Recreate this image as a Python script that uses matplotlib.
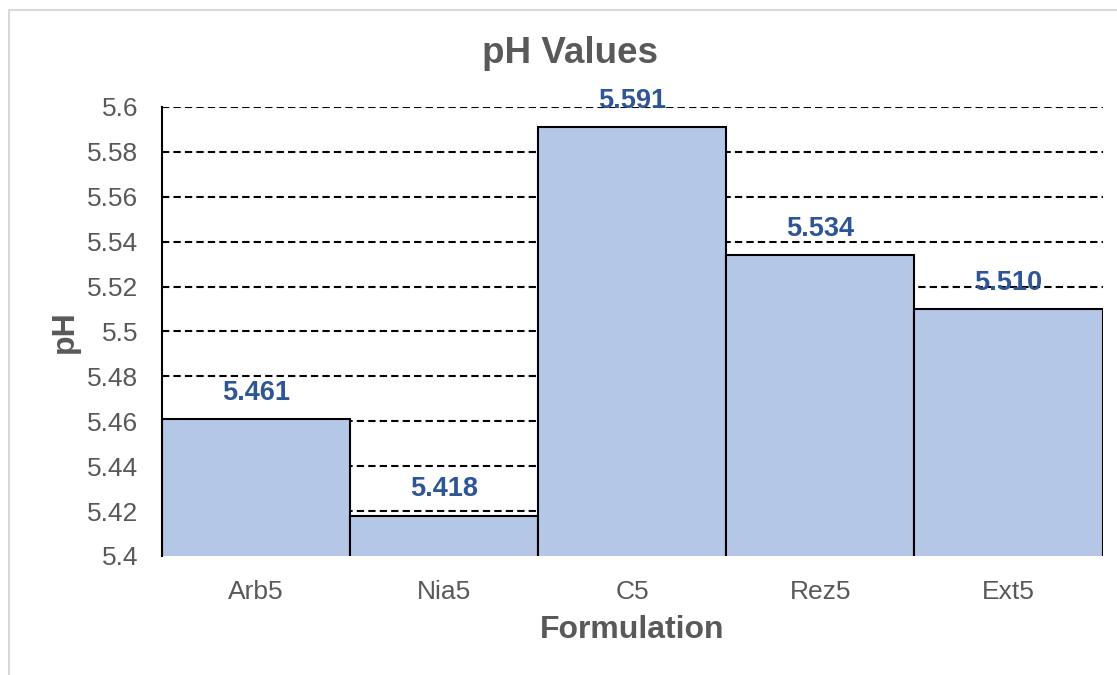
import matplotlib.pyplot as plt
from matplotlib.patches import Rectangle

plt.rcParams['font.family'] = ['Liberation Sans', 'DejaVu Sans']

formulations = ['Arb5', 'Nia5', 'C5', 'Rez5', 'Ext5']
ph_values = [5.461, 5.418, 5.591, 5.534, 5.510]
y_ticks = [5.4, 5.42, 5.44, 5.46, 5.48, 5.5, 5.52, 5.54, 5.56, 5.58, 5.6]
y_tick_labels = ['5.4', '5.42', '5.44', '5.46', '5.48', '5.5', '5.52', '5.54', '5.56', '5.58', '5.6']

gray = '#595959'
fig = plt.figure(figsize=(11.17, 6.75), dpi=100)
ax = fig.add_axes([0.145, 0.1763, 0.8421, 0.6652])

# chart border
fig.patches.append(Rectangle((0.008, -0.1), 1.2, 1.085, transform=fig.transFigure,
                             fill=False, edgecolor='#D9D9D9', lw=1.5))

ax.set_axisbelow(True)
ax.yaxis.grid(True, linestyle=(0, (3.5, 2)), color='black', lw=1.5)
bars = ax.bar(formulations, ph_values, width=1.0, color='#B4C7E7',
              edgecolor='black', lw=1.5, zorder=2)

ax.set_ylim(5.4, 5.6)
ax.set_xlim(-0.5, 4.5)
ax.set_yticks(y_ticks)
ax.set_yticklabels(y_tick_labels)
ax.tick_params(axis='y', length=0, pad=17, labelsize=19, labelcolor=gray)
ax.tick_params(axis='x', length=0, pad=17, labelsize=19, labelcolor=gray)

for s in ['top', 'right', 'bottom']:
    ax.spines[s].set_visible(False)
ax.spines['left'].set_color('black')
ax.spines['left'].set_linewidth(1.5)

for x, v in zip(range(len(formulations)), ph_values):
    ax.annotate(f'{v:.3f}', (x, v), xytext=(0, 19), textcoords='offset points',
                ha='center', va='center', fontsize=19.5, fontweight='bold',
                color='#2F5597', zorder=5)

fig.text(0.51, 0.921, 'pH Values', ha='center', va='center', fontsize=26.5,
         fontweight='bold', color=gray)
fig.text(0.566, 0.067, 'Formulation', ha='center', va='center', fontsize=23,
         fontweight='bold', color=gray)
fig.text(0.058, 0.508, 'pH', ha='center', va='center', rotation=90, fontsize=23,
         fontweight='bold', color=gray)

fig.savefig('out.png', dpi=100)
